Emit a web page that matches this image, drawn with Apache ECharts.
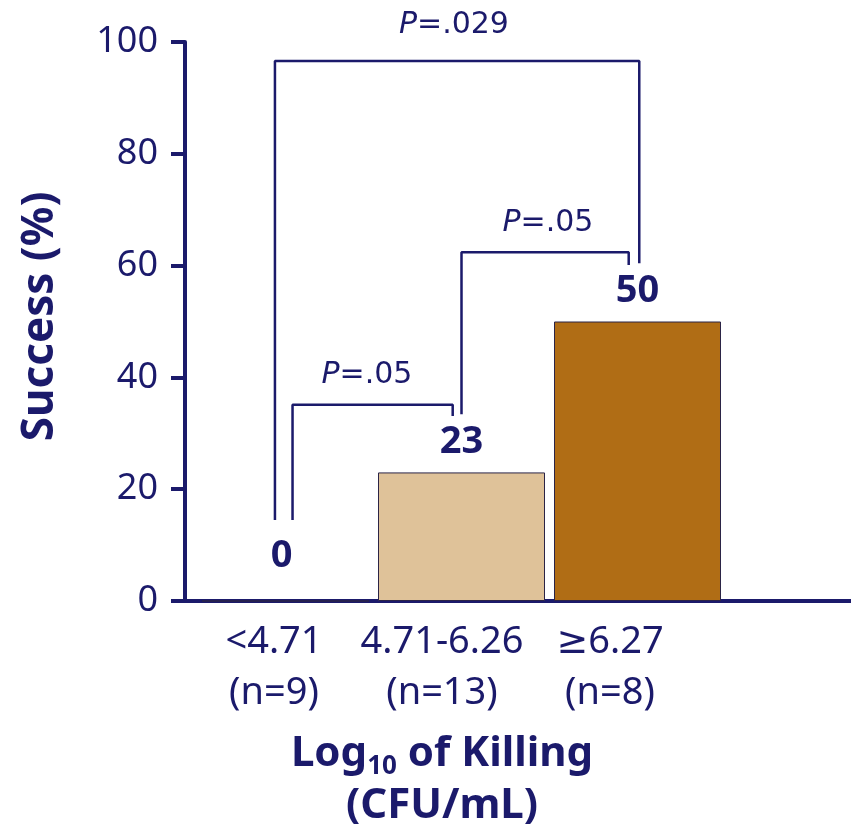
<!DOCTYPE html>
<html>
<head>
<meta charset="utf-8">
<script src="https://cdn.jsdelivr.net/npm/echarts@6/dist/echarts.min.js"></script>
<style>
  html, body { margin: 0; padding: 0; background: #ffffff; }
  #chart { width: 851px; height: 832px; }
</style>
</head>
<body>
<div id="chart"></div>
<script>
// Killing groups (log10 CFU/mL) and group sizes
const categories = ['<4.71', '4.71-6.26', '\u22656.27'];
const groupSizes = ['(n=9)', '(n=13)', '(n=8)'];
// Success rate per group (%)
const successPct = [0, 23, 50];
// Y axis scale
const yMin = 0;
const yMax = 100;
const yStep = 20;

// Significance brackets, in axis units (x = group index, y = %)
const bracketOuter = [[-0.06, 14.5], [-0.06, 96.6], [2.01, 96.6], [2.01, 60.4]];
const bracketLow = [[0.04, 14.5], [0.04, 35.1], [0.95, 35.1], [0.95, 33.1]];
const bracketHigh = [[1.0, 33.4], [1.0, 62.4], [1.95, 62.4], [1.95, 60.1]];
// P values written over the brackets: [x, y, text]
const pLabels = [[0.957, 103.0, '.029'], [0.463, 40.4, '.05'], [1.491, 67.6, '.05']];

const NAVY = '#1b1a6b';
const FONT = '"Noto Sans", "DejaVu Sans", sans-serif';
const PFONT = '"DejaVu Sans", "Noto Sans", sans-serif';
const barFill = ['#dfc299', '#dfc299', '#b06d15'];

const chart = echarts.init(document.getElementById('chart'), null, { renderer: 'canvas' });

const lineSeries = (pts) => ({
  type: 'line',
  xAxisIndex: 0,
  yAxisIndex: 0,
  data: pts,
  symbol: 'none',
  clip: false,
  silent: true,
  lineStyle: { color: NAVY, width: 2.5 },
  z: 3
});

const option = {
  animation: false,
  backgroundColor: '#ffffff',
  grid: [
    { left: 185, right: 0, top: 42, bottom: 231 },
    { left: 190, right: 157, top: 42, bottom: 231 }
  ],
  xAxis: [
    {
      type: 'value',
      gridIndex: 0,
      min: -0.571,
      max: 3.213,
      axisLine: { show: true, onZero: false, lineStyle: { color: NAVY, width: 4 } },
      axisTick: { show: false },
      axisLabel: { show: false },
      splitLine: { show: false }
    },
    {
      type: 'category',
      gridIndex: 1,
      data: categories.map((c, i) => c + '\n' + groupSizes[i]),
      axisLine: { show: false },
      axisTick: { show: false },
      splitLine: { show: false },
      axisLabel: {
        margin: 21,
        color: NAVY,
        fontFamily: FONT,
        fontSize: 38,
        lineHeight: 51,
        interval: 0
      },
      name: '{b|Log}{s|10}{b| of Killing}\n{b|(CFU/mL)}',
      nameLocation: 'middle',
      nameGap: 132,
      nameTextStyle: {
        rich: {
          b: { fontFamily: FONT, fontWeight: 'bold', fontSize: 42, color: NAVY, lineHeight: 52 },
          s: { fontFamily: FONT, fontWeight: 'bold', fontSize: 26, color: NAVY, lineHeight: 52, verticalAlign: 'bottom', padding: [22, 0, 0, 0] }
        }
      }
    }
  ],
  yAxis: [
    {
      type: 'value',
      gridIndex: 0,
      min: yMin,
      max: yMax,
      interval: yStep,
      axisLine: { show: true, onZero: false, lineStyle: { color: NAVY, width: 4 } },
      axisTick: { show: true, length: 14, lineStyle: { color: NAVY, width: 4 } },
      splitLine: { show: false },
      axisLabel: { margin: 27, color: NAVY, fontFamily: FONT, fontSize: 36 },
      name: 'Success (%)',
      nameLocation: 'middle',
      nameGap: 123,
      nameTextStyle: { color: NAVY, fontFamily: FONT, fontWeight: 'bold', fontSize: 44, padding: [0, 0, 0, 10] }
    },
    {
      type: 'value',
      gridIndex: 1,
      min: yMin,
      max: yMax,
      show: false
    }
  ],
  series: [
    {
      type: 'bar',
      xAxisIndex: 0,
      yAxisIndex: 0,
      barWidth: 167,
      data: successPct.map((v, i) => ({
        value: [i, v],
        itemStyle: { color: barFill[i] },
        label: v === 0 ? { distance: 25, offset: [-4, 0] } : undefined
      })),
      itemStyle: { borderColor: '#2b2446', borderWidth: 1 },
      label: {
        show: true,
        position: 'top',
        distance: 11,
        color: NAVY,
        fontFamily: FONT,
        fontWeight: 'bold',
        fontSize: 38,
        formatter: (p) => String(p.value[1])
      },
      z: 2
    },
    lineSeries(bracketOuter),
    lineSeries(bracketLow),
    lineSeries(bracketHigh),
    {
      type: 'scatter',
      xAxisIndex: 0,
      yAxisIndex: 0,
      symbolSize: 0,
      clip: false,
      silent: true,
      itemStyle: { opacity: 1 },
      data: pLabels.map((d) => ({ value: [d[0], d[1]], name: d[2] })),
      label: {
        show: true,
        position: 'inside',
        color: NAVY,
        opacity: 1,
        textBorderWidth: 0,
        textBorderColor: 'transparent',
        formatter: (p) => '{i|P}{r|=' + p.name + '}',
        rich: {
          i: { fontFamily: PFONT, fontStyle: 'italic', fontSize: 30, color: NAVY, textBorderWidth: 0 },
          r: { fontFamily: PFONT, fontSize: 30, color: NAVY, textBorderWidth: 0 }
        }
      }
    }
  ]
};

chart.setOption(option);
</script>
</body>
</html>
